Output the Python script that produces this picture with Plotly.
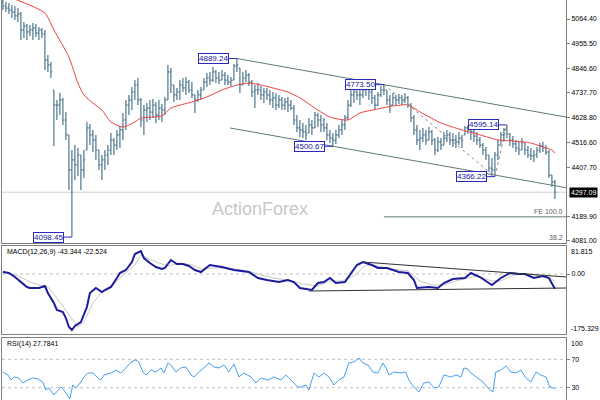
import plotly.graph_objects as go

# ---------------- price bars ----------------
first_open = 5140
highs = [5162, 5140, 5135, 5126, 5122, 5113, 5095, 5051, 5042, 5038,
         5047, 5042, 5029, 5025, 5016, 4905, 4874, 4750, 4706, 4737,
         4715, 4652, 4551, 4484, 4506, 4493, 4462, 4484, 4608, 4599,
         4573, 4551, 4484, 4462, 4484, 4506, 4559, 4537, 4573, 4590,
         4648, 4706, 4728, 4763, 4794, 4803, 4715, 4683, 4692, 4706,
         4710, 4697, 4706, 4688, 4719, 4861, 4847, 4772, 4759, 4794,
         4803, 4808, 4794, 4785, 4728, 4750, 4763, 4803, 4825, 4830,
         4852, 4839, 4830, 4839, 4830, 4816, 4808, 4865, 4889.24, 4847,
         4830, 4839, 4825, 4794, 4772, 4781, 4768, 4759, 4759, 4750,
         4741, 4737, 4728, 4719, 4715, 4719, 4706, 4683, 4639, 4617,
         4604, 4595, 4626, 4617, 4652, 4648, 4639, 4626, 4604, 4573,
         4559, 4573, 4595, 4617, 4639, 4706, 4750, 4759, 4763, 4750,
         4763, 4768, 4768, 4759, 4728, 4741, 4768, 4773.50, 4750, 4728,
         4737, 4728, 4732, 4728, 4737, 4723, 4692, 4639, 4595, 4573,
         4582, 4573, 4586, 4573, 4537, 4542, 4537, 4564, 4573, 4564,
         4559, 4551, 4564, 4551, 4590, 4593, 4582, 4573, 4564, 4542,
         4515, 4497, 4462, 4449, 4475, 4528, 4564, 4582, 4595.14, 4559,
         4546, 4528, 4520, 4537, 4515, 4502, 4493, 4484, 4497, 4515,
         4520, 4506, 4484, 4373, 4351]
lows = [5104, 5095, 5087, 5069, 5060, 5051, 4971, 4980, 4971, 4989,
        4971, 4985, 4971, 4980, 4839, 4830, 4803, 4502, 4617, 4639,
        4595, 4528, 4307, 4098.45, 4351, 4369, 4307, 4360, 4484, 4506,
        4475, 4440, 4396, 4351, 4396, 4418, 4462, 4462, 4484, 4493,
        4528, 4573, 4639, 4661, 4706, 4683, 4586, 4551, 4608, 4617,
        4626, 4604, 4617, 4608, 4639, 4706, 4737, 4697, 4706, 4706,
        4741, 4728, 4737, 4715, 4648, 4697, 4706, 4750, 4763, 4772,
        4785, 4781, 4777, 4794, 4772, 4772, 4768, 4794, 4830, 4737,
        4772, 4785, 4768, 4719, 4670, 4728, 4706, 4692, 4706, 4683,
        4670, 4661, 4670, 4661, 4661, 4652, 4661, 4595, 4564, 4542,
        4537, 4528, 4559, 4551, 4582, 4586, 4564, 4564, 4528, 4515,
        4500.67, 4511, 4537, 4551, 4573, 4617, 4675, 4692, 4706, 4683,
        4715, 4723, 4706, 4688, 4661, 4679, 4719, 4728, 4683, 4648,
        4683, 4679, 4688, 4683, 4692, 4670, 4608, 4551, 4506, 4484,
        4520, 4506, 4528, 4506, 4462, 4475, 4484, 4506, 4520, 4506,
        4497, 4493, 4506, 4493, 4551, 4555, 4528, 4520, 4506, 4493,
        4462, 4440, 4387, 4369, 4366.22, 4440, 4506, 4520, 4537, 4502,
        4493, 4475, 4462, 4484, 4462, 4449, 4440, 4431, 4449, 4471,
        4475, 4462, 4360, 4320, 4267]
closes = [5122, 5113, 5104, 5095, 5078, 5087, 5016, 5033, 5007, 5016,
          5025, 5002, 5016, 4998, 4883, 4861, 4830, 4683, 4683, 4706,
          4617, 4551, 4396, 4440, 4418, 4462, 4396, 4440, 4582, 4551,
          4528, 4484, 4418, 4440, 4462, 4484, 4528, 4506, 4551, 4573,
          4617, 4683, 4706, 4741, 4772, 4706, 4617, 4661, 4670, 4652,
          4683, 4639, 4670, 4661, 4706, 4830, 4772, 4728, 4741, 4772,
          4759, 4785, 4750, 4728, 4706, 4728, 4750, 4785, 4803, 4794,
          4830, 4803, 4794, 4816, 4794, 4785, 4794, 4856, 4861, 4772,
          4803, 4816, 4785, 4741, 4750, 4750, 4728, 4741, 4728, 4706,
          4715, 4683, 4706, 4683, 4697, 4683, 4670, 4617, 4582, 4573,
          4564, 4551, 4595, 4582, 4639, 4617, 4595, 4582, 4551, 4537,
          4528, 4551, 4573, 4595, 4626, 4683, 4728, 4741, 4728, 4728,
          4750, 4759, 4741, 4715, 4683, 4728, 4750, 4750, 4706, 4683,
          4715, 4706, 4715, 4706, 4715, 4683, 4626, 4573, 4528, 4537,
          4551, 4528, 4564, 4528, 4484, 4520, 4506, 4537, 4551, 4528,
          4528, 4520, 4537, 4528, 4582, 4573, 4564, 4546, 4528, 4506,
          4484, 4462, 4404, 4396, 4462, 4506, 4551, 4573, 4555, 4528,
          4511, 4493, 4484, 4520, 4484, 4462, 4458, 4462, 4484, 4502,
          4493, 4475, 4373, 4342, 4297.09]

# moving average (red line)
ma_x = [4, 14, 17, 22, 25, 27, 30, 33, 36, 40, 44, 46, 53, 56, 63, 68, 73, 78, 82, 86,
        90, 95, 99, 105, 109, 115, 119, 125, 130, 135, 139, 146, 153, 159, 165, 170, 176, 179, 183, 184]
ma_y = [5153, 5091, 5016, 4896, 4781, 4728, 4692, 4661, 4608, 4586, 4608, 4626, 4635, 4670, 4697,
        4719, 4750, 4772, 4781, 4772, 4759, 4741, 4715, 4661, 4630, 4617, 4648, 4666, 4679, 4684,
        4653, 4604, 4573, 4551, 4529, 4524, 4515, 4502, 4484, 4471]

# pivots labelled on the chart (bar index, "high"/"low")
pivots = [(23, "low"), (78, "high"), (110, "low"), (127, "high"), (164, "low"), (168, "high")]

# MACD(12,26,9)
macd_x = [0, 2, 4, 6, 8, 9, 12, 14, 15, 17, 18, 20, 21, 22, 23, 24, 26, 28, 29, 31,
          33, 34, 36, 38, 39, 41, 43, 44, 46, 47, 49, 51, 53, 54, 56, 58, 60, 62, 64, 66,
          69, 73, 77, 82, 85, 88, 92, 95, 97, 99, 103, 105, 107, 109, 111, 114, 116, 118, 120, 123,
          125, 128, 132, 135, 137, 138, 142, 145, 147, 150, 154, 156, 159, 163, 166, 169, 172, 174, 177, 180,
          182, 184]
macd_v = [5.8, 2.9, -8.8, -23.4, -38.0, -40.9, -40.9, -35.1, -55.5, -84.8,
          -105.2, -111.1, -128.6, -154.9, -163.7, -152.0, -140.3, -96.5, -55.5, -40.9,
          -52.6, -46.8, -38.0, -11.7, 2.9, 11.7, 35.0, 58.4, 67.2, 46.7,
          32.1, 20.4, 14.6, 17.5, 40.9, 29.2, 29.2, 23.3, 11.7, 5.8,
          26.3, 20.4, 11.7, 5.8, -11.7, -17.6, -23.4, -17.6, -23.4, -40.9,
          -46.8, -26.3, -23.4, -11.7, -26.3, -23.4, 2.9, 26.3, 35.0, 26.3,
          17.5, 17.5, 5.8, 2.9, -17.6, -40.9, -38.0, -40.9, -26.3, -14.6,
          -11.7, 2.9, -8.8, -32.2, -11.7, 2.9, 0, 0, -11.7, -5.9,
          -11.7, -43.344]
sig_x = [0, 5, 10, 15, 18, 22, 25, 27, 30, 33, 36, 39, 44, 46, 48, 52, 55, 59, 63, 66,
         70, 75, 80, 85, 90, 95, 100, 105, 109, 113, 117, 121, 125, 130, 135, 139, 143, 147, 151, 155,
         158, 163, 166, 170, 175, 179, 182, 184]
sig_v = [8.8, -5.9, -26.3, -38.0, -70.2, -119.8, -154.9, -140.3, -84.8, -52.6,
         -40.9, -11.7, 26.3, 55.5, 46.7, 32.1, 23.3, 32.1, 26.3, 14.6,
         17.5, 17.5, 11.7, 0, -11.7, -17.6, -29.2, -35.1, -20.4, -20.4,
         -5.9, 26.3, 23.3, 14.6, 8.8, -20.4, -32.2, -32.2, -20.4, -11.7,
         -5.9, -20.4, -20.4, -2.9, 0, -5.9, -8.8, -22.524]
macd_range = [-175.329, 81.815]
macd_tl_upper = ([120, 188], [35.0, -8.8])
macd_tl_lower = ([102, 188], [-49.7, -40.9])

# RSI(14)
rsi_x = [0, 1.7, 2.7, 3.7, 5.3, 6.7, 8.3, 10, 11.7, 13.3,
         14.3, 15.3, 17, 18.3, 19.3, 20.3, 21.7, 22.3, 23.3, 24.3,
         26, 27, 28.3, 30, 31.7, 32.7, 33.7, 36, 37.7, 39.3,
         41, 42.7, 44.3, 45.3, 46.7, 47.7, 49.3, 51, 52.7, 53.7,
         55, 56, 57.7, 59.3, 61, 62.7, 63.7, 65.3, 67, 68.7,
         70.3, 72, 73.7, 75.3, 77, 78.7, 80.3, 82.7, 84.3, 86,
         88.3, 90.3, 92.7, 94.3, 96.7, 98.3, 99.3, 101, 102, 103.7,
         105.3, 107, 108.7, 110.3, 112, 113.7, 115.3, 117, 118.7, 120,
         121.7, 123.3, 125, 126.7, 127.7, 128.7, 130.3, 132.7, 134.3, 135.3,
         137, 138.7, 140.3, 142, 143.7, 145.3, 147, 149.3, 151, 152.7,
         153.7, 155, 156, 157.7, 160, 161.7, 163.3, 164.3, 166, 167.7,
         169.3, 171, 172.7, 174.3, 176, 177.7, 179.3, 181, 182.3, 183.7,
         184]
rsi_v = [52.1, 47.9, 40.9, 45.1, 43.7, 36.6, 40.9, 43.7, 42.3, 38.0,
         26.8, 29.6, 19.7, 26.8, 31.0, 26.8, 16.9, 14.1, 33.8, 29.6,
         38.0, 45.1, 50.7, 50.7, 43.7, 40.9, 47.9, 50.7, 54.9, 50.7,
         57.8, 66.2, 69.0, 66.2, 52.1, 47.9, 54.9, 52.1, 57.8, 50.7,
         64.8, 62.0, 52.1, 57.8, 59.2, 47.9, 45.1, 52.1, 57.8, 64.8,
         59.2, 57.8, 62.0, 52.1, 63.4, 45.1, 50.7, 45.1, 36.6, 43.7,
         40.9, 45.1, 40.9, 47.9, 38.0, 31.0, 31.0, 33.8, 26.8, 50.7,
         45.1, 50.7, 45.1, 33.8, 40.9, 45.1, 64.8, 66.2, 71.8, 64.8,
         62.0, 52.1, 50.7, 64.8, 57.8, 47.9, 52.1, 50.7, 52.1, 40.9,
         31.0, 24.0, 36.6, 38.0, 29.6, 31.0, 47.9, 45.1, 47.9, 45.1,
         57.8, 56.4, 50.7, 45.1, 38.0, 29.6, 24.0, 52.1, 54.9, 60.6,
         52.1, 50.7, 54.9, 43.7, 38.0, 52.1, 47.9, 45.1, 31.0, 29.6,
         27.7841]
rsi_levels = [70, 30]

price_ticks = [5064.40, 4955.50, 4846.60, 4737.70, 4628.80, 4516.60, 4407.70, 4189.90, 4081.00]
price_range = [4072.1, 5148.6]
rsi_range = [12.7, 100]

# ---------------- styling ----------------
FONT = "Liberation Sans, Arial, sans-serif"
BAR_C = "#4f7890"
LINE_C = "#808080"
CH_C = "#5f7878"
LBL_C = "#2a2ab8"
XDOM = [2 / 600, 566 / 600]
XR = [-0.3, 187.7]
X_END = 188

n = len(closes)
idx = list(range(n))
opens = [first_open] + closes[:-1]
opens = [min(max(o, l), h) for o, l, h in zip(opens, lows, highs)]

fig = go.Figure()

fig.add_trace(go.Ohlc(x=idx, open=opens, high=highs, low=lows, close=closes,
                      increasing=dict(line=dict(color=BAR_C, width=1.2)),
                      decreasing=dict(line=dict(color=BAR_C, width=1.2)),
                      tickwidth=0.45, xaxis="x", yaxis="y", hoverinfo="skip"))
fig.add_trace(go.Scatter(x=ma_x, y=ma_y, mode="lines", line=dict(color="#f04040", width=1, shape="spline", smoothing=0.6),
                         xaxis="x", yaxis="y", hoverinfo="skip"))

# channel (upper through two highs, lower parallel through the low)
(h1i, h2i) = (78, 127)
slope = (highs[h2i] - highs[h1i]) / (h2i - h1i)
fig.add_trace(go.Scatter(x=[h1i, X_END], y=[highs[h1i], highs[h1i] + slope * (X_END - h1i)],
                         mode="lines", line=dict(color=CH_C, width=1), xaxis="x", yaxis="y", hoverinfo="skip"))
li = 110
lx0 = 75.7
fig.add_trace(go.Scatter(x=[lx0, X_END], y=[lows[li] + slope * (lx0 - li), lows[li] + slope * (X_END - li)],
                         mode="lines", line=dict(color=CH_C, width=1), xaxis="x", yaxis="y", hoverinfo="skip"))

# Fibonacci expansion A-B-C
A_i, B_i, C_i = 127, 164, 168
A, B, C = highs[A_i], lows[B_i], highs[C_i]
fe100 = C - (A - B)
fig.add_trace(go.Scatter(x=[A_i, B_i, C_i], y=[A, B, C], mode="lines",
                         line=dict(color="#909090", width=1, dash="3px,3px"), xaxis="x", yaxis="y", hoverinfo="skip"))
fig.add_trace(go.Scatter(x=[A_i, X_END], y=[fe100, fe100], mode="lines",
                         line=dict(color=CH_C, width=1), xaxis="x", yaxis="y", hoverinfo="skip"))

# MACD
fig.add_trace(go.Scatter(x=sig_x, y=sig_v, mode="lines", line=dict(color="#c8c8c8", width=1),
                         xaxis="x2", yaxis="y2", hoverinfo="skip"))
fig.add_trace(go.Scatter(x=macd_x, y=macd_v, mode="lines", line=dict(color="#1c1c9c", width=2),
                         xaxis="x2", yaxis="y2", hoverinfo="skip"))
for tl in (macd_tl_upper, macd_tl_lower):
    fig.add_trace(go.Scatter(x=tl[0], y=tl[1], mode="lines", line=dict(color="#303030", width=1),
                             xaxis="x2", yaxis="y2", hoverinfo="skip"))

# RSI
fig.add_trace(go.Scatter(x=rsi_x, y=rsi_v, mode="lines", line=dict(color="#46a0f0", width=1),
                         xaxis="x3", yaxis="y3", hoverinfo="skip"))

shapes = [
    dict(type="line", xref="x domain", x0=0, x1=1, yref="y", y0=closes[-1], y1=closes[-1],
         line=dict(color="#cfcfcf", width=1), layer="below"),
    dict(type="line", xref="x2 domain", x0=0, x1=1, yref="y2", y0=0, y1=0,
         line=dict(color="#c0c0c0", width=1, dash="3px,3px"), layer="below"),
]
for lv in rsi_levels:
    shapes.append(dict(type="line", xref="x3 domain", x0=0, x1=1, yref="y3", y0=lv, y1=lv,
                       line=dict(color="#c0c0c0", width=1, dash="3px,3px"), layer="below"))

ann = []
for i, kind in pivots:
    v = highs[i] if kind == "high" else lows[i]
    ann.append(dict(x=i, y=v, xref="x", yref="y", text=f"{v:.2f}", showarrow=True, arrowhead=0,
                    arrowwidth=1, arrowcolor=LBL_C, ax=-23, ay=0, standoff=0,
                    bgcolor="white", bordercolor=LBL_C, borderwidth=1, borderpad=0,
                    font=dict(family=FONT, size=8, color="#2020a0")))
AX_X = XDOM[1] + 3 / 600
ann.append(dict(x=AX_X, xref="paper", y=closes[-1], yref="y", text=f"{closes[-1]:.2f}", showarrow=False,
                xanchor="left", bgcolor="black", font=dict(family=FONT, size=7, color="white"), borderpad=1))
ann.append(dict(x=XDOM[1] - 1 / 600, xref="paper", y=fe100, yref="y", text="FE 100.0", showarrow=False,
                xanchor="right", yanchor="bottom", font=dict(family=FONT, size=7, color="#606060")))
ann.append(dict(x=XDOM[1] - 1 / 600, xref="paper", y=0, yref="y domain", text="38.2", showarrow=False,
                xanchor="right", yanchor="bottom", font=dict(family=FONT, size=7, color="#606060")))
ann.append(dict(x=260 / 600, xref="paper", y=1 - 209 / 400, yref="paper", text="ActionForex", showarrow=False,
                font=dict(family=FONT, size=18, color="#c8c8c8")))
ann.append(dict(x=AX_X, xref="paper", y=macd_range[1], yref="y2", text=f"{macd_range[1]:.3f}", showarrow=False,
                xanchor="left", yanchor="top", font=dict(family=FONT, size=7, color="black")))
ann.append(dict(x=AX_X, xref="paper", y=macd_range[0], yref="y2", text=f"{macd_range[0]:.3f}", showarrow=False,
                xanchor="left", yanchor="bottom", font=dict(family=FONT, size=7, color="black")))
ann.append(dict(x=AX_X, xref="paper", y=rsi_range[1], yref="y3", text=f"{rsi_range[1]:.0f}", showarrow=False,
                xanchor="left", yanchor="top", font=dict(family=FONT, size=7, color="black")))
ann.append(dict(x=XDOM[0] + 3 / 600, xref="paper", y=macd_range[1], yref="y2",
                text=f"MACD(12,26,9) {macd_v[-1]:.3f} {sig_v[-1]:.3f}", showarrow=False,
                xanchor="left", yanchor="top", font=dict(family=FONT, size=7, color="black")))
ann.append(dict(x=XDOM[0] + 3 / 600, xref="paper", y=rsi_range[1], yref="y3",
                text=f"RSI(14) {rsi_v[-1]:.4f}", showarrow=False,
                xanchor="left", yanchor="top", font=dict(family=FONT, size=7, color="black")))

common_x = dict(domain=XDOM, range=XR, showticklabels=False, showgrid=False, zeroline=False,
                showline=True, linecolor=LINE_C, linewidth=1, ticks="", fixedrange=True)
common_y = dict(side="right", showgrid=False, zeroline=False, showline=True, mirror=True,
                linecolor=LINE_C, linewidth=1, ticks="outside", ticklen=3, tickcolor=LINE_C,
                tickfont=dict(family=FONT, size=7, color="black"), fixedrange=True)

fig.update_layout(
    width=600, height=400, margin=dict(l=0, r=0, t=0, b=0),
    paper_bgcolor="white", plot_bgcolor="white", showlegend=False,
    font=dict(family=FONT, size=7),
    xaxis=dict(**common_x, anchor="y", rangeslider=dict(visible=False)),
    xaxis2=dict(**common_x, anchor="y2", mirror=True),
    xaxis3=dict(**common_x, anchor="y3", mirror=True),
    yaxis=dict(**common_y, anchor="x", domain=[1 - 243 / 400, 1], range=price_range,
               tickvals=price_ticks, ticktext=[f"{t:.2f}" for t in price_ticks]),
    yaxis2=dict(**common_y, anchor="x2", domain=[1 - 334 / 400, 1 - 246 / 400], range=macd_range,
                tickvals=[0], ticktext=["0.00"]),
    yaxis3=dict(**common_y, anchor="x3", domain=[0, 1 - 338 / 400], range=rsi_range,
                tickvals=rsi_levels, ticktext=[str(v) for v in rsi_levels]),
    shapes=shapes, annotations=ann,
)

fig.write_html("out.html")
